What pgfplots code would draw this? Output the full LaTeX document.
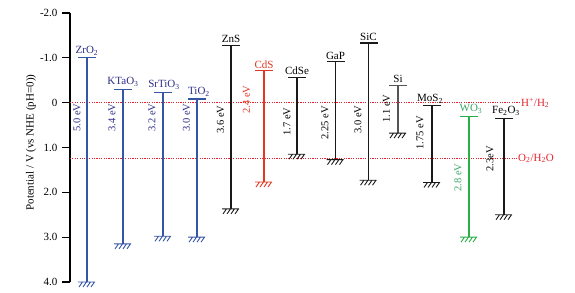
\documentclass[border=0pt]{standalone}
\usepackage{fontspec}
\setmainfont{Liberation Serif}
\usepackage{pgfplots}
\usepackage{pgfplotstable}
\pgfplotsset{compat=1.18}
\definecolor{bl}{RGB}{55,85,165}
\definecolor{blt}{RGB}{45,45,135}
\definecolor{rd}{RGB}{225,55,35}
\definecolor{gr}{RGB}{40,175,70}
\definecolor{grt}{RGB}{60,165,100}
\definecolor{dk}{RGB}{25,25,25}
\definecolor{si}{RGB}{85,85,85}
\definecolor{refc}{RGB}{230,35,45}
\pgfdeclareplotmark{ground}{%
\pgfpathmoveto{\pgfqpoint{-9pt}{0pt}}\pgfpathlineto{\pgfqpoint{8pt}{0pt}}%
\pgfpathmoveto{\pgfqpoint{-4.5pt}{0pt}}\pgfpathlineto{\pgfqpoint{-8pt}{-5pt}}%
\pgfpathmoveto{\pgfqpoint{-0.5pt}{0pt}}\pgfpathlineto{\pgfqpoint{-4pt}{-5pt}}%
\pgfpathmoveto{\pgfqpoint{3.5pt}{0pt}}\pgfpathlineto{\pgfqpoint{0pt}{-5pt}}%
\pgfpathmoveto{\pgfqpoint{7.5pt}{0pt}}\pgfpathlineto{\pgfqpoint{4pt}{-5pt}}%
\pgfusepathqstroke}
% x position (pixels), conduction band, valence band (V vs NHE)
\pgfplotstableread{
x cb vb
87 -1.00 4.00
123 -0.30 3.15
163 -0.23 2.98
197 -0.08 3.00
}\blue
\pgfplotstableread{
x cb vb
231 -1.27 2.37
297 -0.56 1.15
335.5 -0.91 1.27
368.5 -1.33 1.73
432 0.07 1.78
504 0.35 2.50
}\black
\pgfplotstableread{
x cb vb
398 -0.38 0.68
}\silicon
\pgfplotstableread{
x cb vb
264 -0.71 1.77
}\cds
\pgfplotstableread{
x cb vb
469 0.30 3.00
}\wo
\pgfplotsset{
  band/.style={mark=none, draw=none, error bars/.cd, y dir=plus, y explicit, error mark=none,
     error bar style={line width=1.2pt, #1}},
  top/.style={only marks, mark=-, mark size=9pt, mark options={line width=1.2pt, #1}},
  bot/.style={only marks, mark=ground, mark options={line width=0.9pt, #1}},
}
\begin{document}
\begin{tikzpicture}
\begin{axis}[
  scale only axis, width=505pt, height=269pt,
  xmin=70, xmax=575, ymin=-2, ymax=4, y dir=reverse,
  axis x line=none, axis y line*=left, clip=false,
  y axis line style={-, line width=1.1pt, black},
  ytick={-2,-1,0,1,2,3,4},
  yticklabels={-2.0,-1.0,0,1.0,2.0,3.0,4.0},
  tick align=outside, major tick length=8pt,
  ytick style={line width=1.1pt, black},
  yticklabel style={font=\fontsize{11}{13}\selectfont, xshift=-1pt},
]
\coordinate (bbsw) at (axis cs:0,4.245);
\coordinate (bbne) at (axis cs:575,-2.29);
% reference levels
\addplot[refc, line width=1.1pt, dash pattern=on 1.1pt off 1.3pt] coordinates {(70,0) (520,0)};
\addplot[refc, line width=1.1pt, dash pattern=on 1.1pt off 1.3pt] coordinates {(70,1.24) (517,1.24)};
% bands
\addplot[band=bl] table[x=x, y=cb, y error expr=\thisrow{vb}-\thisrow{cb}] {\blue};
\addplot[top=bl] table[x=x, y=cb] {\blue};
\addplot[bot=bl] table[x=x, y=vb] {\blue};
\addplot[band=dk] table[x=x, y=cb, y error expr=\thisrow{vb}-\thisrow{cb}] {\black};
\addplot[top=dk] table[x=x, y=cb] {\black};
\addplot[bot=dk] table[x=x, y=vb] {\black};
\addplot[band=si] table[x=x, y=cb, y error expr=\thisrow{vb}-\thisrow{cb}] {\silicon};
\addplot[top=si] table[x=x, y=cb] {\silicon};
\addplot[bot=dk] table[x=x, y=vb] {\silicon};
\addplot[band=rd] table[x=x, y=cb, y error expr=\thisrow{vb}-\thisrow{cb}] {\cds};
\addplot[top=rd] table[x=x, y=cb] {\cds};
\addplot[bot=rd] table[x=x, y=vb] {\cds};
\addplot[band=gr] table[x=x, y=cb, y error expr=\thisrow{vb}-\thisrow{cb}] {\wo};
\addplot[top=gr] table[x=x, y=cb] {\wo};
\addplot[bot=gr] table[x=x, y=vb] {\wo};
% material names
\begin{scope}[every node/.style={anchor=south, inner sep=0pt, yshift=2.5pt, font=\fontsize{11}{13}\selectfont}]
\node[text=blt] at (axis cs:87,-1.00) {ZrO\textsubscript{2}};
\node[text=blt] at (axis cs:123,-0.30) {KTaO\textsubscript{3}};
\node[text=blt] at (axis cs:164,-0.23) {SrTiO\textsubscript{3}};
\node[text=blt] at (axis cs:199,-0.08) {TiO\textsubscript{2}};
\node[text=black] at (axis cs:231,-1.27) {ZnS};
\node[text=rd] at (axis cs:264,-0.71) {CdS};
\node[text=black] at (axis cs:297,-0.56) {CdSe};
\node[text=black] at (axis cs:335.5,-0.91) {GaP};
\node[text=black] at (axis cs:368.5,-1.33) {SiC};
\node[text=black] at (axis cs:398,-0.38) {Si};
\node[text=black] at (axis cs:430,0.07) {MoS\textsubscript{2}};
\node[text=grt] at (axis cs:471,0.30) {WO\textsubscript{3}};
\node[text=black] at (axis cs:506,0.35) {Fe\textsubscript{2}O\textsubscript{3}};
\end{scope}
% band gaps
\begin{scope}[every node/.style={rotate=90, inner sep=0pt, font=\fontsize{10.5}{12}\selectfont}]
\node[text=blt] at (axis cs:77,0.33) {5.0 eV};
\node[text=blt] at (axis cs:112,0.33) {3.4 eV};
\node[text=blt] at (axis cs:152,0.33) {3.2 eV};
\node[text=blt] at (axis cs:186.5,0.33) {3.0 eV};
\node[text=black] at (axis cs:220.5,0.38) {3.6 eV};
\node[text=rd] at (axis cs:246.5,-0.07) {2.4 eV};
\node[text=black] at (axis cs:287,0.42) {1.7 eV};
\node[text=black] at (axis cs:325,0.45) {2.25 eV};
\node[text=black] at (axis cs:358,0.38) {3.0 eV};
\node[text=black] at (axis cs:386.5,0.13) {1.1 eV};
\node[text=black] at (axis cs:420,0.67) {1.75 eV};
\node[text=grt] at (axis cs:458,1.67) {2.8 eV};
\node[text=black] at (axis cs:490,1.25) {2.3eV};
\end{scope}
% reference labels
\node[anchor=west, inner sep=0pt, text=refc, font=\fontsize{11}{13}\selectfont] at (axis cs:521,0) {H\textsuperscript{+}/H\textsubscript{2}};
\node[anchor=west, inner sep=0pt, text=refc, font=\fontsize{11}{13}\selectfont] at (axis cs:518,1.24) {O\textsubscript{2}/H\textsubscript{2}O};
% axis title
\node[rotate=90, font=\fontsize{11}{13}\selectfont] at (axis cs:31,0.89) {Potential / V (vs NHE (pH=0))};
\end{axis}
\pgfresetboundingbox
\path (bbsw) rectangle (bbne);
\end{tikzpicture}
\end{document}
